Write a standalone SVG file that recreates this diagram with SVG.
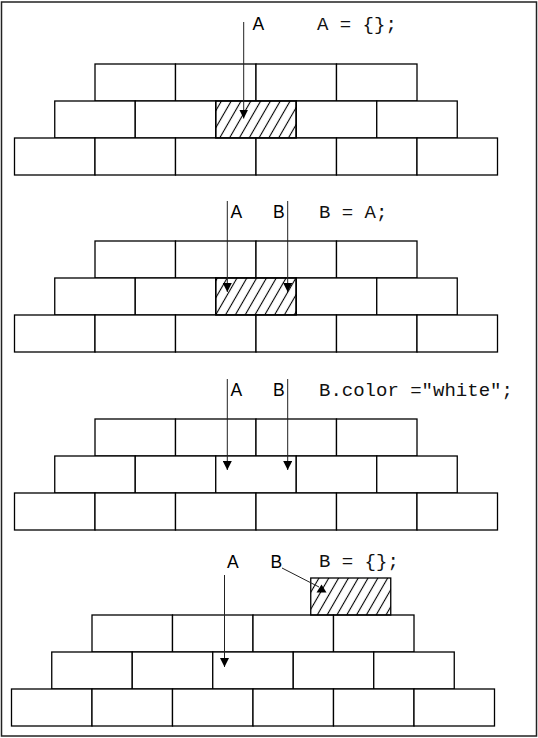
<svg xmlns="http://www.w3.org/2000/svg" width="538" height="738" viewBox="0 0 538 738">
<style>
.brick{fill:#fff;stroke:#000;stroke-width:1.3}
.hatch{fill:url(#hatch);stroke:#000;stroke-width:1.3}
.lbl{font-family:"Liberation Sans",Arial,sans-serif;font-size:17.5px;fill:#000}
.code{font-family:"Liberation Mono","Courier New",monospace;font-size:19px;fill:#111}
.ptr{stroke:#222;stroke-width:1;fill:none}
.head{fill:#000}
</style>
<defs>
<pattern id="hatch" patternUnits="userSpaceOnUse" width="8.5" height="10" patternTransform="rotate(30)">
<line x1="4.25" y1="-1" x2="4.25" y2="11" stroke="#000" stroke-width="1.1"/>
</pattern>
<marker id="arr" viewBox="0 0 10 10" refX="10" refY="5" markerWidth="9" markerHeight="9" markerUnits="userSpaceOnUse" orient="auto">
<path d="M0,0 L10,5 L0,10 z" fill="#000"/>
</marker>
<g id="wall">
<rect class="brick" x="80.5" y="0" width="80.5" height="37"/>
<rect class="brick" x="161" y="0" width="80.5" height="37"/>
<rect class="brick" x="241.5" y="0" width="80.5" height="37"/>
<rect class="brick" x="322" y="0" width="80.5" height="37"/>
<rect class="brick" x="40.25" y="37" width="80.5" height="37"/>
<rect class="brick" x="120.75" y="37" width="80.5" height="37"/>
<rect class="brick" x="201.25" y="37" width="80.5" height="37"/>
<rect class="brick" x="281.75" y="37" width="80.5" height="37"/>
<rect class="brick" x="362.25" y="37" width="80.5" height="37"/>
<rect class="brick" x="0" y="74" width="80.5" height="37"/>
<rect class="brick" x="80.5" y="74" width="80.5" height="37"/>
<rect class="brick" x="161" y="74" width="80.5" height="37"/>
<rect class="brick" x="241.5" y="74" width="80.5" height="37"/>
<rect class="brick" x="322" y="74" width="80.5" height="37"/>
<rect class="brick" x="402.5" y="74" width="80.5" height="37"/>
</g>
</defs>
<rect x="1.5" y="2" width="535" height="734" fill="#fff" stroke="#222" stroke-width="1.5"/>

<g id="wall1"><use href="#wall" x="14.5" y="64"/></g>
<g id="objA1"><rect class="hatch" x="215.75" y="101" width="80.5" height="37"/></g>
<g id="text1">
<text class="lbl" x="252.5" y="29.5">A</text>
<text class="code" x="317" y="29.5">A = {};</text>
</g>

<g id="wall2"><use href="#wall" x="14.5" y="241"/></g>
<g id="objA2"><rect class="hatch" x="215.75" y="278" width="80.5" height="37"/></g>
<g id="text2">
<text class="lbl" x="230.5" y="217.5">A</text>
<text class="lbl" x="273" y="217.5">B</text>
<text class="code" x="319" y="217.5">B = A;</text>
</g>

<g id="wall3"><use href="#wall" x="14.5" y="419"/></g>
<g id="text3">
<text class="lbl" x="230.5" y="396">A</text>
<text class="lbl" x="273" y="396">B</text>
<text class="code" x="319" y="396">B.color ="white";</text>
</g>

<g id="wall4"><use href="#wall" x="11.5" y="615"/></g>
<g id="objB4"><rect class="hatch" x="310.75" y="578" width="80" height="37"/></g>
<g id="text4">
<text class="lbl" x="227" y="568">A</text>
<text class="lbl" x="270.5" y="568">B</text>
<text class="code" x="319" y="567">B = {};</text>
</g>

<g id="connectors">
<line class="ptr" x1="243.7" y1="22" x2="243.7" y2="118.5" marker-end="url(#arr)"/>
<line class="ptr" x1="227.3" y1="201" x2="227.3" y2="292" marker-end="url(#arr)"/>
<line class="ptr" x1="287.7" y1="201" x2="287.7" y2="292" marker-end="url(#arr)"/>
<line class="ptr" x1="227.3" y1="379" x2="227.3" y2="470" marker-end="url(#arr)"/>
<line class="ptr" x1="287.7" y1="379" x2="287.7" y2="470" marker-end="url(#arr)"/>
<line class="ptr" x1="224.5" y1="575" x2="224.5" y2="667" marker-end="url(#arr)"/>
<line class="ptr" x1="282" y1="568" x2="319" y2="587"/>
<polygon class="head" points="316.5,592.5 326.5,592.5 321.5,584.5"/>
</g>
</svg>
